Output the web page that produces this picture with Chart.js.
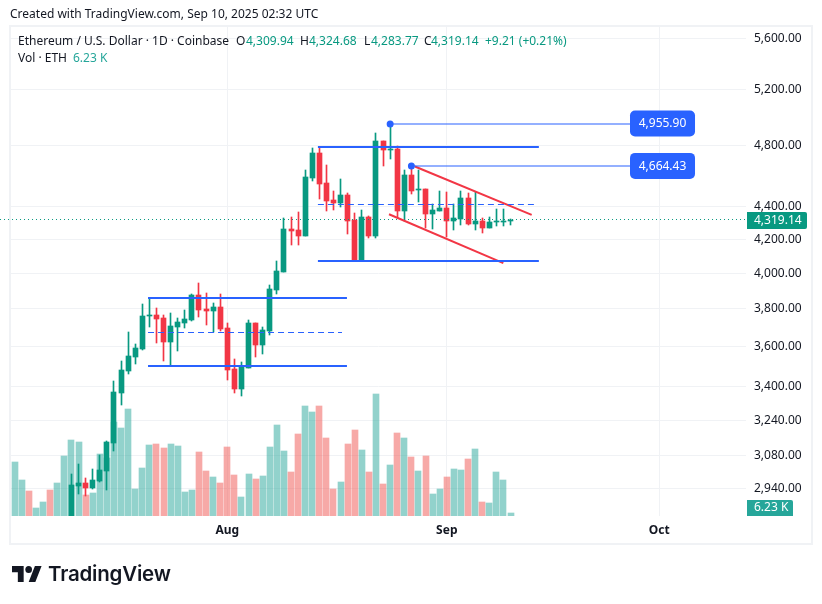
<!DOCTYPE html>
<html>
<head>
<meta charset="utf-8">
<script src="https://cdn.jsdelivr.net/npm/chart.js@4"></script>
<style>
html,body{margin:0;padding:0;background:#fff;width:822px;height:604px;overflow:hidden}
body{position:relative;font-family:"Noto Sans",sans-serif;color:#131722;font-size:12px}
#frame{position:absolute;left:9px;top:25px;width:804px;height:520px;box-sizing:border-box;border:2px solid #f0f2f5}
canvas{position:absolute;left:0;top:0}
.t{position:absolute;white-space:nowrap;line-height:16px;height:16px}
.g{color:#089981}.v{color:#26a69a}
#logo{position:absolute;left:12px;top:566px;width:30px;height:16px}
#brand{position:absolute;left:48px;top:560px;font-family:Inter,sans-serif;font-weight:600;font-size:20.5px;line-height:28px;color:#131722;white-space:nowrap;letter-spacing:-.2px}
</style>
</head>
<body>
<div id="frame"></div>
<canvas id="c" width="822" height="604"></canvas>
<div class="t" style="left:10px;top:6px">Created with TradingView.com, Sep 10, 2025 02:32 UTC</div>
<div class="t" style="left:18px;top:33px">Ethereum / U.S. Dollar · 1D · Coinbase</div>
<div class="t" style="left:236px;top:33px">O</div><div class="t g" style="left:246px;top:33px">4,309.94</div>
<div class="t" style="left:300px;top:33px">H</div><div class="t g" style="left:309px;top:33px">4,324.68</div>
<div class="t" style="left:364px;top:33px">L</div><div class="t g" style="left:371px;top:33px">4,283.77</div>
<div class="t" style="left:424px;top:33px">C</div><div class="t g" style="left:431px;top:33px">4,319.14</div>
<div class="t g" style="left:485px;top:33px">+9.21 (+0.21%)</div>
<div class="t" style="left:18px;top:50px">Vol · ETH</div><div class="t v" style="left:73px;top:50px">6.23 K</div>
<svg id="logo" viewBox="0 4 36 18" preserveAspectRatio="none"><path fill="#131722" d="M14 22H7V11H0V4h14v18zM28 22h-8l7.5-18h8L28 22z"/><circle fill="#131722" cx="20" cy="8" r="4"/></svg>
<div id="brand">TradingView</div>
<script>
// Day index 0 = 2 Jul 2025
const volumes = [108,72,50,16,28,52,66,120,152,148,42,46,124,116,188,176,214,54,96,142,144,136,144,140,48,52,128,90,78,66,138,82,38,84,74,80,138,182,130,88,164,220,208,220,156,54,68,144,172,132,88,244,64,102,166,156,118,90,120,44,54,78,94,92,114,134,28,26,88,72,6.23];
const volumeRising = [1,1,0,1,1,0,1,1,1,1,0,1,1,1,1,1,1,1,1,1,0,0,1,1,1,1,0,0,1,0,0,0,1,1,0,1,1,1,1,0,0,1,1,0,0,0,1,0,0,1,0,1,0,1,0,1,0,1,0,1,1,0,1,1,0,1,0,1,1,1,1];
// Candles start at day index 8 (10 Jul); earlier days fall below the visible range
const candleStart = 8;
const opens  = [2770,2950,2962,2942,2971,3014,3137,3370,3478,3548,3589,3763,3768,3752,3625,3704,3725,3741,3878,3801,3790,3812,3698,3488,3389,3493,3725,3610,3683,3905,4007,4262,4256,4220,4585,4752,4552,4442,4423,4474,4317,4071,4336,4220,4834,4772,4779,4373,4605,4507,4513,4354,4373,4392,4311,4323,4455,4293,4311,4268,4305,4307,4309.94];
const highs  = [3001,3044,2984,3022,3083,3146,3428,3528,3677,3615,3828,3861,3806,3768,3779,3752,3795,3883,3944,3889,3834,3883,3725,3538,3523,3741,3725,3704,3933,4071,4329,4336,4367,4638,4786,4786,4671,4500,4579,4487,4360,4379,4342,4891,4834,4955.9,4800,4638,4664.43,4638,4513,4417,4500,4494,4417,4500,4487,4494,4329,4336,4386,4386,4324.68];
const lows   = [2750,2916,2908,2937,2967,2933,3101,3312,3463,3513,3584,3704,3620,3528,3503,3579,3698,3736,3757,3714,3677,3683,3433,3370,3355,3493,3548,3564,3662,3883,4007,4165,4165,4220,4565,4449,4373,4379,4398,4232,4071,4071,4207,4207,4664,4711,4329,4311,4481,4430,4268,4262,4373,4214,4256,4287,4287,4256,4238,4268,4281,4281,4283.77];
const closes = [2952,2962,2942,2975,3018,3141,3375,3483,3553,3594,3763,3768,3746,3625,3709,3730,3746,3878,3795,3790,3812,3693,3483,3389,3498,3725,3610,3688,3911,4013,4262,4250,4220,4592,4752,4546,4436,4423,4474,4311,4071,4336,4220,4834,4772,4779,4373,4605,4500,4513,4354,4379,4392,4311,4329,4455,4293,4311,4268,4305,4311,4310,4319.14];
const lastPrice = 4319.14;
const lastVolumeLabel = "6.23 K";
const priceTicks = [5600,5200,4800,4400,4200,4000,3800,3600,3400,3240,3080,2940];
const monthTicks = [30,61,91];
const monthLabels = ["Aug","Sep","Oct"];
// Drawings
const rangeA = {x:[18.81,46.9], top:3861, bottom:3503, midX:46.2, mid:3676};
const rangeB = {x:[42.8,74.0],  top:4795, bottom:4071, midX:73.6, mid:4415};
const priceNotes = [{x:53,p:4955.90,end:86.87,labelEnd:96.05},{x:56,p:4664.43,end:86.87,labelEnd:96.05}];
const channelUpper = [{x:56.5,y:4660},{x:72.99,y:4348}];
const channelLower = [{x:52.84,y:4352},{x:68.98,y:4058}];

const GREEN="#089981", RED="#f23645", BLUE="#2962ff";
const seg=(x0,x1,y,extra)=>Object.assign({type:"line",flat:true,data:[{x:x0,y},{x:x1,y}],borderColor:BLUE,borderWidth:2,pointRadius:0,order:1,yAxisID:"y"},extra||{});
const up=closes.map((c,i)=>c>=opens[i]);
const datasets=[
 {type:"bar",yAxisID:"yVol",order:5,barThickness:6,grouped:false,
  data:volumes.map((v,i)=>({x:i,y:v})),
  backgroundColor:volumeRising.map(r=>r?"rgba(38,166,154,.5)":"rgba(239,83,80,.5)")},
 {type:"bar",yAxisID:"y",order:4,barThickness:1,grouped:false,
  data:lows.map((l,i)=>({x:i+candleStart,y:[l,highs[i]]})),
  backgroundColor:up.map(u=>u?GREEN:RED)},
 {type:"bar",yAxisID:"y",order:3,barThickness:5,grouped:false,minBarLength:1,
  data:opens.map((o,i)=>({x:i+candleStart,y:[o,closes[i]]})),
  backgroundColor:up.map(u=>u?GREEN:RED)},
 seg(-2.09,103.25,lastPrice,{borderColor:GREEN,borderWidth:1,borderDash:[1,3],order:2,clip:{left:12,top:0,right:0,bottom:0}}),
 seg(rangeA.x[0],rangeA.x[1],rangeA.top),
 seg(rangeA.x[0],rangeA.x[1],rangeA.bottom),
 seg(rangeA.x[0],rangeA.midX,rangeA.mid,{borderWidth:1,borderDash:[6,4]}),
 seg(rangeB.x[0],rangeB.x[1],rangeB.top),
 seg(rangeB.x[0],rangeB.x[1],rangeB.bottom),
 seg(rangeB.x[0],rangeB.midX,rangeB.mid,{borderWidth:1,borderDash:[6,4]}),
 ...priceNotes.map(n=>({type:"line",flat:true,yAxisID:"y",order:1,data:[{x:n.x,y:n.p},{x:n.end,y:n.p}],borderColor:"rgba(41,98,255,.5)",borderWidth:2,pointRadius:[2.5,0],pointBackgroundColor:BLUE,pointBorderColor:BLUE})),
 {type:"line",yAxisID:"y",order:1,data:channelUpper,borderColor:RED,borderWidth:2,pointRadius:0},
 {type:"line",yAxisID:"y",order:1,data:channelLower,borderColor:RED,borderWidth:2,pointRadius:0}
];
function rr(ctx,x,y,w,h,r){ctx.beginPath();ctx.roundRect(x,y,w,h,r);ctx.fill();}
const snap={id:"snap",afterDatasetsUpdate(chart){
  chart.data.datasets.forEach((d,i)=>{
    if(d.type==="line"){
      if(!d.flat)return;
      const odd=d.borderWidth%2===1;
      chart.getDatasetMeta(i).data.forEach(el=>{el.y=odd?Math.floor(el.y)+.5:Math.round(el.y);});
      return;
    }
    const even=d.barThickness%2===0;
    chart.getDatasetMeta(i).data.forEach(el=>{
      el.x=even?Math.round(el.x):Math.floor(el.x)+.5;
      const a=Math.round(el.y),b=Math.round(el.base);
      el.y=a; el.base=(a===b)?a+1:b; el.height=el.base-el.y;
    });
  });
}};
const badges={id:"badges",afterDatasetsDraw(chart){
  const ctx=chart.ctx,x=chart.scales.x,y=chart.scales.y,a=chart.chartArea;
  ctx.save();
  ctx.font='12px "Noto Sans"';ctx.textBaseline="middle";ctx.textAlign="center";
  priceNotes.forEach(n=>{
    const l=x.getPixelForValue(n.end),r=x.getPixelForValue(n.labelEnd),c=y.getPixelForValue(n.p);
    ctx.fillStyle=BLUE;rr(ctx,l,c-13,r-l,26,5);
    ctx.fillStyle="#fff";ctx.fillText(n.p.toLocaleString("en-US",{minimumFractionDigits:2}),(l+r)/2,c+.5);
  });
  const c=Math.round(y.getPixelForValue(lastPrice));
  ctx.fillStyle=GREEN;rr(ctx,a.right+1,c-8,60,17,[0,2,2,0]);
  ctx.fillStyle="#fff";ctx.textAlign="left";
  ctx.fillText(lastPrice.toLocaleString("en-US",{minimumFractionDigits:2}),a.right+8,c+.5);
  ctx.fillStyle="#26a69a";rr(ctx,a.right+1,a.bottom-16,46,16,[0,2,0,0]);
  ctx.fillStyle="#fff";ctx.fillText(lastVolumeLabel,a.right+8,a.bottom-8);
  ctx.restore();
}};
Chart.defaults.font.family='"Noto Sans",sans-serif';
Chart.defaults.font.size=12;
Chart.defaults.color="#131722";
new Chart(document.getElementById("c"),{
  data:{datasets},
  plugins:[snap,badges],
  options:{
    responsive:false,animation:false,devicePixelRatio:1,
    layout:{padding:{left:11,top:27,right:0,bottom:0}},
    plugins:{legend:{display:false},tooltip:{enabled:false},title:{display:false}},
    elements:{line:{tension:0}},
    scales:{
      x:{type:"linear",min:-0.54,max:103.25,offset:false,
        grid:{color:"#f0f2f5",drawTicks:false,offset:false},border:{display:false},
        afterBuildTicks(s){s.ticks=monthTicks.map(v=>({value:v}));},
        afterFit(s){s.height=88;},
        ticks:{autoSkip:false,maxRotation:0,padding:7,font:{weight:"bold",size:12},
          callback:(v)=>monthLabels[monthTicks.indexOf(v)]||""}
      },
      y:{type:"logarithmic",position:"right",min:2825,max:5691,bounds:"data",
        grid:{color:"#f0f2f5",drawTicks:false},border:{display:false},
        afterBuildTicks(s){s.ticks=priceTicks.map(v=>({value:v}));},
        afterFit(s){s.width=76;},
        ticks:{autoSkip:false,padding:8,callback:v=>Number(v).toLocaleString("en-US",{minimumFractionDigits:2,maximumFractionDigits:2})}
      },
      yVol:{type:"linear",display:false,min:0,max:978,position:"left"}
    }
  }
});
</script>
</body>
</html>
